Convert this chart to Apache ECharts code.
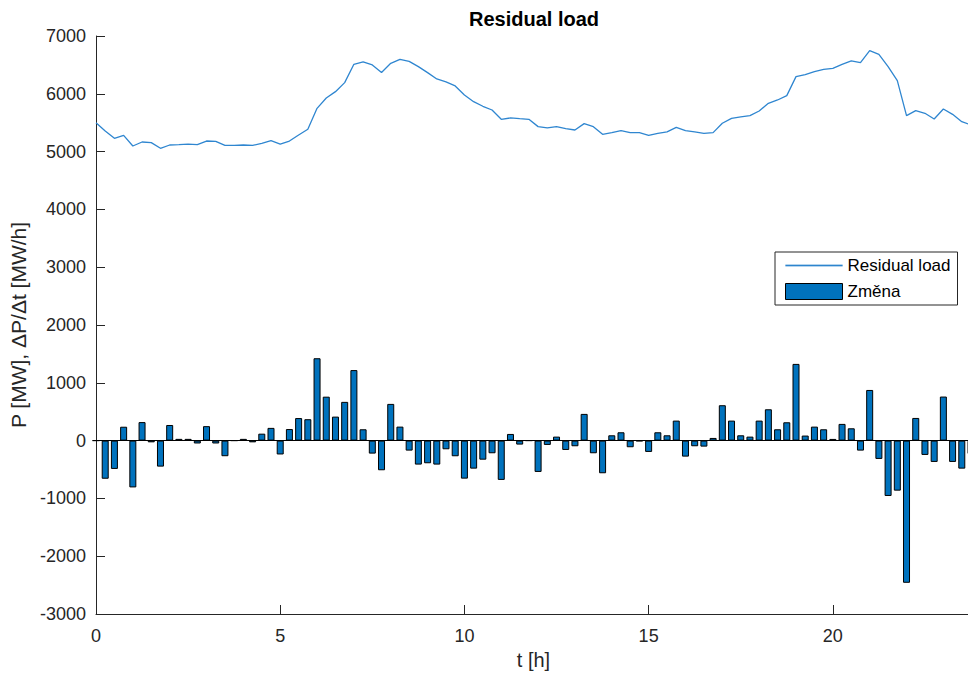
<!DOCTYPE html>
<html>
<head>
<meta charset="utf-8">
<title>Residual load</title>
<script src="https://cdn.jsdelivr.net/npm/echarts@6/dist/echarts.min.js"></script>
<style>
  html, body { margin: 0; padding: 0; background: #ffffff; }
  #chart { width: 968px; height: 677px; }
</style>
</head>
<body>
<div id="chart"></div>
<script>
// Time of day in hours, 15-minute steps
const hours = [
  0, 0.25, 0.5, 0.75, 1, 1.25, 1.5, 1.75, 2, 2.25, 2.5, 2.75,
  3, 3.25, 3.5, 3.75, 4, 4.25, 4.5, 4.75, 5, 5.25, 5.5, 5.75,
  6, 6.25, 6.5, 6.75, 7, 7.25, 7.5, 7.75, 8, 8.25, 8.5, 8.75,
  9, 9.25, 9.5, 9.75, 10, 10.25, 10.5, 10.75, 11, 11.25, 11.5, 11.75,
  12, 12.25, 12.5, 12.75, 13, 13.25, 13.5, 13.75, 14, 14.25, 14.5, 14.75,
  15, 15.25, 15.5, 15.75, 16, 16.25, 16.5, 16.75, 17, 17.25, 17.5, 17.75,
  18, 18.25, 18.5, 18.75, 19, 19.25, 19.5, 19.75, 20, 20.25, 20.5, 20.75,
  21, 21.25, 21.5, 21.75, 22, 22.25, 22.5, 22.75, 23, 23.25, 23.5, 23.75
];

// Residual load P [MW]
const residualLoad = [
  5500, 5357, 5230, 5282, 5097, 5166, 5155, 5057, 5114, 5120, 5131, 5120,
  5183, 5178, 5108, 5108, 5114, 5108, 5143, 5189, 5131, 5183, 5287, 5386,
  5749, 5928, 6037, 6193, 6510, 6551, 6499, 6370, 6528, 6597, 6562, 6470,
  6366, 6257, 6205, 6136, 5980, 5864, 5784, 5720, 5559, 5582, 5570, 5559,
  5432, 5409, 5432, 5397, 5374, 5484, 5432, 5299, 5328, 5363, 5328, 5328,
  5282, 5317, 5340, 5418, 5363, 5340, 5317, 5328, 5490, 5576, 5599, 5622,
  5703, 5836, 5893, 5968, 6297, 6332, 6384, 6424, 6441, 6510, 6568, 6539,
  6747, 6683, 6470, 6228, 5622, 5709, 5663, 5565, 5738, 5645, 5518, 5460
];

// Change of load dP/dt [MW/h]
const change = [
  0, -660, -490, 240, -810, 320, -30, -450, 270, 30, 30, -50,
  250, -50, -270, 0, 30, -30, 120, 220, -240, 200, 390, 370,
  1425, 760, 415, 670, 1220, 196, -225, -513, 635, 242, -173, -415,
  -392, -415, -150, -271, -658, -485, -330, -219, -680, 115, -69, 0,
  -542, -75, 69, -162, -98, 462, -219, -565, 92, 144, -115, -10,
  -196, 144, 92, 346, -277, -98, -104, 46, 612, 346, 92, 69,
  346, 542, 196, 317, 1327, 87, 242, 196, 29, 289, 213, -173,
  876, -317, -958, -866, -2460, 392, -248, -369, 762, -369, -485, -230
];

// Axis ticks
const xTicks = [0, 5, 10, 15, 20];
const yTicks = [-3000, -2000, -1000, 0, 1000, 2000, 3000, 4000, 5000, 6000, 7000];

const titleText = 'Residual load';
const seriesNames = ['Residual load', 'Změna'];
const xName = 't [h]';
const yName = 'P [MW], \u0394P/\u0394t [MW/h]';

const axisColor = '#262626';
const lineColor = '#2f86d0';
const barColor = '#0072BD';
const fontFamily = 'Liberation Sans, Arial, Helvetica, sans-serif';

const chart = echarts.init(document.getElementById('chart'), null, { renderer: 'svg' });

const linePoints = hours.map((t, i) => [t, residualLoad[i]]);
const barPoints = hours.map((t, i) => [t, change[i]]);

// plain integer tick labels, no thousands separator
const plainLabel = v => String(v);

chart.setOption({
  animation: false,
  backgroundColor: '#ffffff',
  textStyle: { fontFamily: fontFamily },
  graphic: [{
    type: 'text',
    x: 534,
    y: 19,
    style: {
      text: titleText,
      fontFamily: fontFamily,
      fontSize: 20,
      fontWeight: 'bold',
      fill: '#000000',
      align: 'center',
      verticalAlign: 'middle'
    }
  }],
  grid: {
    left: 96, right: -3, top: 36, bottom: 63,
    containLabel: false,
    outerBoundsMode: 'none'
  },
  legend: {
    orient: 'vertical',
    left: 775,
    top: 252,
    padding: [5, 7, 5, 10],
    itemWidth: 57,
    itemHeight: 16,
    itemGap: 9,
    borderColor: axisColor,
    borderWidth: 1,
    borderRadius: 0,
    backgroundColor: '#ffffff',
    symbolKeepAspect: true,
    textStyle: { fontSize: 17, color: '#000000', lineHeight: 16, fontFamily: fontFamily },
    data: [
      {
        name: seriesNames[0],
        icon: 'path://M0,0H57V1.4H0Z',
        itemStyle: { color: lineColor, borderColor: lineColor, borderWidth: 0.2, opacity: 1 }
      },
      {
        name: seriesNames[1],
        icon: 'rect',
        itemStyle: { color: barColor, borderColor: '#000000', borderWidth: 1 }
      }
    ]
  },
  xAxis: {
    type: 'value',
    min: 0,
    max: 23.75,
    interval: 5,
    name: xName,
    nameLocation: 'middle',
    nameGap: 36,
    nameTextStyle: { fontSize: 20, color: axisColor, fontFamily: fontFamily },
    axisLine: { show: true, onZero: false, lineStyle: { color: axisColor, width: 1 } },
    axisTick: { show: true, inside: true, length: 9, lineStyle: { color: axisColor } },
    axisLabel: {
      margin: 13, fontSize: 18, color: axisColor,
      customValues: xTicks, formatter: plainLabel
    },
    splitLine: { show: false }
  },
  yAxis: {
    type: 'value',
    min: -3000,
    max: 7000,
    interval: 1000,
    name: yName,
    nameLocation: 'middle',
    nameGap: 66,
    nameTextStyle: { fontSize: 21, color: axisColor, fontFamily: fontFamily },
    axisLine: { show: true, lineStyle: { color: axisColor, width: 1 } },
    axisTick: { show: true, inside: true, length: 9, lineStyle: { color: axisColor } },
    axisLabel: {
      margin: 10, fontSize: 18, color: axisColor,
      customValues: yTicks, formatter: plainLabel
    },
    splitLine: { show: false }
  },
  series: [
    {
      name: seriesNames[0],
      type: 'line',
      data: linePoints,
      symbol: 'none',
      lineStyle: { color: lineColor, width: 1.3 },
      itemStyle: { color: lineColor },
      z: 3
    },
    {
      name: seriesNames[1],
      type: 'bar',
      data: barPoints,
      barWidth: 7,
      itemStyle: { color: barColor, borderColor: '#000000', borderWidth: 1 },
      markLine: {
        silent: true,
        symbol: 'none',
        label: { show: false },
        lineStyle: { color: '#000000', width: 1, type: 'solid' },
        data: [{ yAxis: 0 }]
      },
      z: 2
    }
  ]
});
</script>
</body>
</html>
